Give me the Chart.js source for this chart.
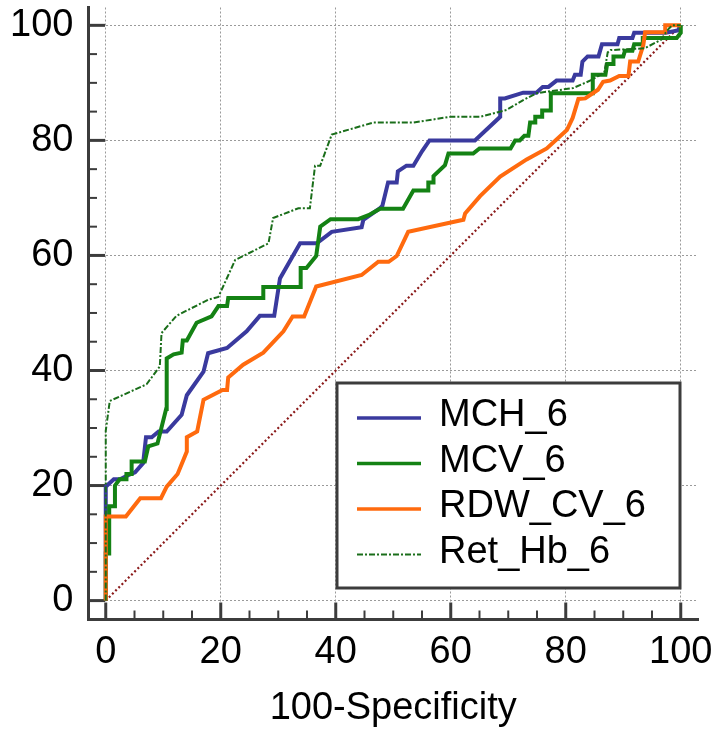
<!DOCTYPE html>
<html>
<head>
<meta charset="utf-8">
<script src="https://cdn.jsdelivr.net/npm/chart.js@4"></script>
<style>
  html, body { margin: 0; padding: 0; background: #fff; }
  #wrap { width: 715px; height: 731px; }
</style>
</head>
<body>
<div id="wrap"><canvas id="roc" width="715" height="731"></canvas></div>
<script>
const seriesNames = ["MCH_6", "MCV_6", "RDW_CV_6", "Ret_Hb_6"];
const seriesColors = ["#3a3a9e", "#148214", "#ff6a0e", "#1a6e1a"];
const diagColor = "#8b1a1a";
const axisTitle = "100-Specificity";

// [100-Specificity, Sensitivity]
const mch = [
  [0, 0], [0, 19.8], [1.4, 21.1], [2.5, 21.1], [3.9, 21.8], [5.1, 22.3], [6.5, 23.9], [7.0, 28.4],
  [8.0, 28.4], [9.2, 29.4], [10.6, 29.4], [13.2, 32.3], [14.1, 35.7], [17.0, 39.8], [17.8, 43.0],
  [21.1, 43.9], [24.5, 46.8], [26.8, 49.5], [29.3, 49.5], [30.3, 56.0], [33.8, 62.1], [36.7, 62.1],
  [39.3, 64.1], [44.5, 64.9], [44.8, 66.2], [47.7, 68.2], [48.1, 68.6], [49.1, 72.7], [50.6, 72.7],
  [50.8, 74.6], [52.3, 75.6], [53.5, 75.6], [55.0, 78.1], [56.3, 80.0], [64.2, 80.0], [68.6, 84.1],
  [68.6, 87.3], [69.4, 87.3], [72.6, 88.3], [74.9, 88.3], [76.0, 89.3], [77.0, 89.3], [78.4, 90.4],
  [81.2, 90.4], [81.6, 91.4], [82.6, 91.4], [82.9, 93.7], [83.8, 94.6], [85.7, 94.6], [86.3, 96.7],
  [89.0, 96.7], [89.3, 97.8], [91.6, 97.8], [91.9, 98.7], [97.4, 98.7], [99.5, 99.1], [100, 100]
];
const mcv = [
  [0, 0], [0, 8.2], [0.6, 8.2], [0.6, 16.4], [1.6, 16.4], [1.6, 20.0], [2.4, 21.1], [3.6, 21.1],
  [3.6, 22.0], [4.5, 22.0], [4.5, 24.2], [6.8, 24.2], [7.4, 26.8], [9.0, 27.3], [10.5, 33.3],
  [10.6, 42.1], [11.8, 42.8], [13.2, 43.1], [13.4, 45.2], [14.1, 45.2], [15.8, 48.3], [18.4, 49.4],
  [19.6, 51.2], [21.1, 51.2], [21.3, 52.6], [27.4, 52.6], [27.4, 54.5], [33.8, 54.5], [33.9, 57.8],
  [34.9, 57.8], [36.6, 59.9], [37.3, 65.0], [39.1, 66.3], [43.9, 66.3], [45.7, 67.0], [47.7, 68.1],
  [51.7, 68.1], [53.5, 71.3], [56.1, 71.3], [56.1, 72.7], [57.0, 72.7], [57.0, 73.8], [59.0, 75.7],
  [59.6, 77.7], [63.9, 77.7], [65.0, 78.6], [70.4, 78.6], [71.2, 80.0], [72.0, 80.0], [72.8, 80.8],
  [73.5, 80.8], [73.8, 83.1], [74.7, 83.1], [74.7, 84.1], [75.9, 84.1], [75.9, 85.2], [77.4, 85.2],
  [77.4, 88.2], [84.6, 88.2], [84.7, 91.4], [86.9, 91.4], [87.2, 93.3], [88.3, 93.3], [88.3, 94.6],
  [90.0, 94.6], [90.3, 95.6], [91.6, 95.6], [91.9, 96.7], [93.3, 96.7], [93.4, 97.8], [99.3, 97.8],
  [100, 98.7], [100, 100]
];
const rdw = [
  [0, 0], [0, 14.6], [3.5, 14.6], [6.0, 17.8], [9.6, 17.8], [10.6, 19.8], [12.5, 22.0], [14.1, 25.9],
  [14.1, 28.4], [15.9, 29.4], [17.0, 34.9], [20.3, 36.6], [21.1, 36.6], [21.3, 38.8], [23.9, 41.0],
  [27.4, 43.1], [30.9, 46.8], [32.5, 49.4], [34.5, 49.4], [36.6, 54.6], [44.5, 56.6], [47.4, 58.9],
  [49.2, 58.9], [50.6, 59.9], [52.6, 64.1], [62.2, 66.2], [62.5, 67.3], [65.1, 70.3], [68.6, 73.7],
  [73.2, 76.7], [76.7, 78.6], [80.2, 81.8], [81.2, 83.9], [82.2, 87.2], [83.4, 87.3], [85.6, 88.8],
  [86.5, 90.2], [87.7, 90.4], [89.3, 91.2], [90.9, 91.2], [91.2, 93.7], [92.6, 93.7], [93.5, 96.6],
  [93.8, 98.8], [97.3, 98.8], [97.3, 100], [100, 100]
];
const retHb = [
  [0, 0], [0, 29.5], [0.7, 34.7], [7.1, 37.6], [9.4, 40.7], [9.7, 46.5], [12.3, 49.5], [17.8, 52.3],
  [19.6, 52.8], [22.5, 59.2], [28.3, 62.1], [29.1, 66.5], [33.5, 68.2], [35.5, 68.2], [36.4, 75.6],
  [37.3, 75.6], [39.3, 81.0], [46.5, 83.1], [53.5, 83.1], [59.9, 84.1], [65.1, 84.1], [69.7, 85.3],
  [72.6, 87.0], [74.9, 88.2], [81.3, 89.1], [84.5, 90.5], [86.7, 91.8], [87.3, 95.3], [87.8, 95.7],
  [93.7, 96.0], [96.6, 97.5], [97.3, 98.6], [98.0, 99.5], [98.5, 100], [100, 100]
];
const diagonal = [[0, 0], [100, 100]];

const majorTicks = [0, 20, 40, 60, 80, 100];
const minorTicks = [5, 10, 15, 25, 30, 35, 45, 50, 55, 65, 70, 75, 85, 90, 95];

const FONT = "'Liberation Sans', Arial, sans-serif";
const AXIS_COLOR = "#3c3c3c";

const toPoints = (pairs) => pairs.map(([x, y]) => ({ x, y }));

const curves = [mch, mcv, rdw, retHb];
const datasets = curves.map((pairs, i) => ({
  label: seriesNames[i],
  data: toPoints(pairs),
  borderColor: seriesColors[i],
  borderWidth: i === 3 ? 2 : 4,
  borderDash: i === 3 ? [6, 2, 2, 2] : [],
  order: 4 - i,
  showLine: true,
  pointRadius: 0,
  tension: 0
}));
datasets.push({
  label: "ref",
  data: toPoints(diagonal),
  borderColor: diagColor,
  borderWidth: 2.2,
  borderDash: [2, 2.5],
  order: 5,
  showLine: true,
  pointRadius: 0
});

// tick marks drawn inward from the axis lines
const tickMarks = {
  id: "tickMarks",
  beforeDatasetsDraw(chart) {
    const { ctx, chartArea, scales: { x, y } } = chart;
    ctx.save();
    ctx.strokeStyle = AXIS_COLOR;
    const mark = (vals, len, w) => {
      ctx.lineWidth = w;
      vals.forEach((v) => {
        const py = y.getPixelForValue(v);
        ctx.beginPath();
        ctx.moveTo(chartArea.left, py);
        ctx.lineTo(chartArea.left + len, py);
        ctx.stroke();
        const px = x.getPixelForValue(v);
        ctx.beginPath();
        ctx.moveTo(px, chartArea.bottom);
        ctx.lineTo(px, chartArea.bottom - len);
        ctx.stroke();
      });
    };
    mark(majorTicks, 16.5, 3);
    mark(minorTicks, 8.5, 2);
    ctx.restore();
  }
};

const boxLegend = {
  id: "boxLegend",
  afterDatasetsDraw(chart) {
    const { ctx } = chart;
    const left = 337, top = 383, w = 343, h = 205;
    ctx.save();
    ctx.fillStyle = "#fff";
    ctx.fillRect(left, top, w, h);
    ctx.strokeStyle = AXIS_COLOR;
    ctx.lineWidth = 3;
    ctx.strokeRect(left, top, w, h);
    ctx.font = "38px " + FONT;
    ctx.textBaseline = "middle";
    ctx.textAlign = "left";
    seriesNames.forEach((name, i) => {
      const ds = chart.data.datasets[i];
      const ry = top + 35 + i * 45.5;
      ctx.strokeStyle = ds.borderColor;
      ctx.lineWidth = i === 3 ? 2 : 3.5;
      ctx.setLineDash(ds.borderDash);
      ctx.beginPath();
      ctx.moveTo(357, ry);
      ctx.lineTo(421, ry);
      ctx.stroke();
      ctx.setLineDash([]);
      ctx.fillStyle = "#000";
      ctx.fillText(name, 439, ry - 2);
    });
    ctx.restore();
  }
};

const gridAndBorder = {
  grid: { color: "#9a9a9a", lineWidth: 1, drawTicks: false },
  border: { display: true, color: AXIS_COLOR, width: 3, dash: [2, 2] }
};

const noPad = (scale) => {
  scale.paddingLeft = 0;
  scale.paddingRight = 0;
  scale.paddingTop = 0;
  scale.paddingBottom = 0;
};

new Chart(document.getElementById("roc"), {
  type: "scatter",
  data: { datasets },
  plugins: [tickMarks, boxLegend],
  options: {
    responsive: false,
    animation: false,
    devicePixelRatio: 1,
    layout: { padding: { top: 7.5, right: 17, left: 0, bottom: 0 } },
    plugins: { legend: { display: false }, tooltip: { enabled: false } },
    scales: {
      x: {
        type: "linear",
        min: -3,
        max: 103,
        ...gridAndBorder,
        afterBuildTicks: (scale) => { scale.ticks = majorTicks.map((v) => ({ value: v })); },
        afterFit: (scale) => { scale.height = 112; noPad(scale); },
        ticks: { color: "#000", font: { family: FONT, size: 38 }, padding: 11, maxRotation: 0, autoSkip: false },
        title: { display: true, text: axisTitle, color: "#000", font: { family: FONT, size: 38 }, padding: { top: 0, bottom: 0 } }
      },
      y: {
        type: "linear",
        min: -3.2,
        max: 103.1,
        ...gridAndBorder,
        afterBuildTicks: (scale) => { scale.ticks = majorTicks.map((v) => ({ value: v })); },
        afterFit: (scale) => { scale.width = 88.5; noPad(scale); },
        ticks: { color: "#000", font: { family: FONT, size: 38 }, padding: 15, autoSkip: false }
      }
    }
  }
});
</script>
</body>
</html>
